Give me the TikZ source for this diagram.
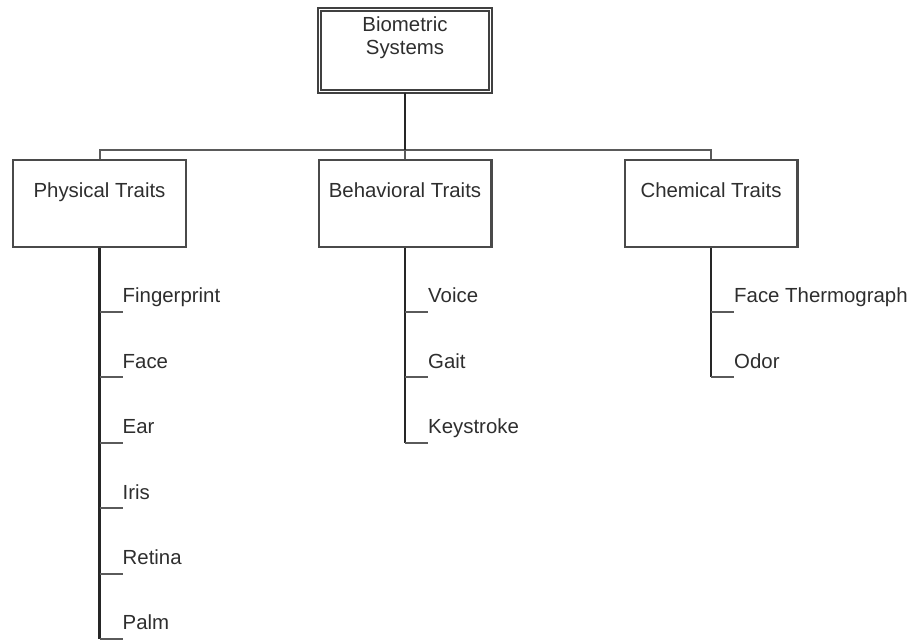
\documentclass[tikz,border=0pt]{standalone}
\usepackage{fontspec}
\setmainfont{Liberation Sans}
\usepackage{tikz}
\usetikzlibrary{calc,positioning}
\definecolor{boxline}{HTML}{4A4A4A}
\definecolor{busline}{HTML}{5A5A5A}
\definecolor{txt}{HTML}{2E2E2E}

\begin{document}
\begin{tikzpicture}[x=1pt,y=-1pt,font=\fontsize{20.4pt}{23pt}\selectfont]
\tikzstyle{trait} = [draw=boxline, line width=2.2pt, minimum width=172.8pt, minimum height=86.8pt, inner sep=0pt]
\tikzstyle{rootbox} = [draw=black!75, line width=1.6pt, double, double distance=1.4pt, minimum width=171.4pt, minimum height=82.4pt, inner sep=0pt]
\tikzstyle{caption} = [text=txt, anchor=base]
\tikzstyle{leaf} = [text=txt, anchor=south west, inner xsep=0pt, inner ysep=9pt, text height=15pt, text depth=0pt]
\tikzstyle{bus} = [draw=busline, line width=2pt]
\tikzstyle{stem} = [draw=black!85, line width=2.2pt]
\tikzstyle{tick} = [draw=busline, line width=2pt]
\useasboundingbox (0,0) rectangle (908,643);

\node(bio)[rootbox] at (405,50.5){};
\node[text=txt, align=center, anchor=north, inner sep=0pt] at ($(bio.north)+(0,8.5)$){Biometric\\Systems};

\node(phys)[trait] at (99.5,203.5){};
\node(behav)[trait] at (405,203.5){};
\node(chem)[trait] at (711,203.5){};
\node[caption] at ($(phys.north)+(0,38)$){Physical Traits};
\node[caption] at ($(behav.north)+(0,38)$){Behavioral Traits};
\node[caption] at ($(chem.north)+(0,38)$){Chemical Traits};

\coordinate(hub) at ($(bio.south)+(0,57.5)$);
\draw[bus] (phys.north) |- (hub) -| (chem.north);
\draw[bus] (behav.north) -- (hub);
\draw[stem] (bio.south) -- (hub);

% physical
\node(fp)[leaf] at ($(phys.south)+(23,64)$){Fingerprint};
\node(face)[leaf] at ($(fp.south west)+(0,65.4)$){Face};
\node(ear)[leaf] at ($(face.south west)+(0,65.4)$){Ear};
\node(iris)[leaf] at ($(ear.south west)+(0,65.4)$){Iris};
\node(retina)[leaf] at ($(iris.south west)+(0,65.4)$){Retina};
\node(palm)[leaf] at ($(retina.south west)+(0,65.4)$){Palm};
\draw[stem] (phys.south) -- (phys.south |- palm.south west);
\draw[tick] (phys.south |- fp.south west) -- (fp.south west)
  (phys.south |- face.south west) -- (face.south west)
  (phys.south |- ear.south west) -- (ear.south west)
  (phys.south |- iris.south west) -- (iris.south west)
  (phys.south |- retina.south west) -- (retina.south west)
  (phys.south |- palm.south west) -- (palm.south west);

% behavioral
\node(voice)[leaf] at ($(behav.south)+(23,64)$){Voice};
\node(gait)[leaf] at ($(voice.south west)+(0,65.4)$){Gait};
\node(keys)[leaf] at ($(gait.south west)+(0,65.4)$){Keystroke};
\draw[stem] (behav.south) -- (behav.south |- keys.south west);
\draw[tick] (behav.south |- voice.south west) -- (voice.south west)
  (behav.south |- gait.south west) -- (gait.south west)
  (behav.south |- keys.south west) -- (keys.south west);

% chemical
\node(thermo)[leaf] at ($(chem.south)+(23,64)$){Face Thermograph};
\node(odor)[leaf] at ($(thermo.south west)+(0,65.4)$){Odor};
\draw[stem] (chem.south) -- (chem.south |- odor.south west);
\draw[tick] (chem.south |- thermo.south west) -- (thermo.south west)
  (chem.south |- odor.south west) -- (odor.south west);
\end{tikzpicture}
\end{document}
